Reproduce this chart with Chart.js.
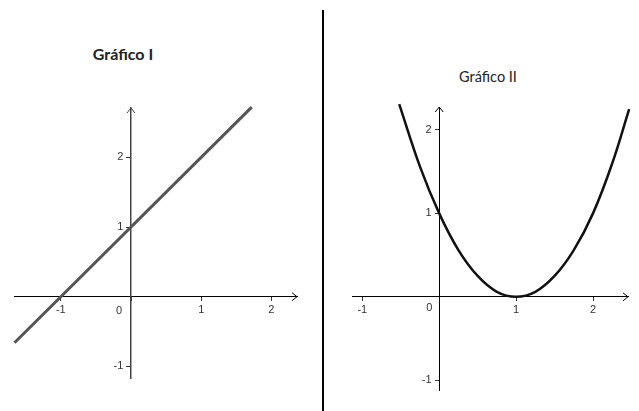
<!DOCTYPE html>
<html>
<head>
<meta charset="utf-8">
<script src="https://cdn.jsdelivr.net/npm/chart.js@4"></script>
<style>
  body { margin: 0; background: #fff; }
  #wrap { position: relative; width: 639px; height: 411px; background: #fff; overflow: hidden; }
  canvas { position: absolute; top: 0; }
  .title { position: absolute; width: 200px; text-align: center; line-height: 1; color: #222; font-family: Lato, "Open Sans", sans-serif; }
  #sep { position: absolute; left: 322px; top: 10px; width: 2px; height: 401px; background: #000; }
</style>
</head>
<body>
<div id="wrap">
  <div class="title" style="left:23px; top:46px; font-size:16px; font-weight:bold;">Gráfico I</div>
  <div class="title" style="left:388px; top:70px; font-size:14.5px;">Gráfico II</div>
  <div id="sep"></div>
  <canvas id="chartI" width="320" height="411" style="left:0"></canvas>
  <canvas id="chartII" width="314" height="411" style="left:325px"></canvas>
</div>
<script>
// Gráfico I - straight line
const lineX = [-1.66, 1.72];
const lineY = [-0.66, 2.72];
const leftXTicks = [-1, 0, 1, 2];
const leftYTicks = [-1, 0, 1, 2];

// Gráfico II - parabola
const curveX = [-0.52, -0.25, 0, 0.25, 0.5, 0.75, 1, 1.25, 1.5, 1.75, 2, 2.25, 2.47];
const curveY = [2.31, 1.56, 1, 0.56, 0.25, 0.06, 0, 0.06, 0.25, 0.56, 1, 1.6, 2.25];
const rightXTicks = [-1, 0, 1, 2];
const rightYTicks = [-1, 0, 1, 2];

const toPoints = (xs, ys) => xs.map((x, i) => ({ x, y: ys[i] }));

// arrows at the axis ends + the "0" under the origin
const axisExtras = {
  id: 'axisExtras',
  afterDraw(chart, args, opts) {
    const { ctx, chartArea: a, scales: { x, y } } = chart;
    const ox = x.getPixelForValue(0), oy = y.getPixelForValue(0);
    ctx.save();
    ctx.lineWidth = 1;
    ctx.strokeStyle = opts.xColor;
    ctx.beginPath();
    ctx.moveTo(a.right - 5, oy - 4); ctx.lineTo(a.right, oy); ctx.lineTo(a.right - 5, oy + 4);
    ctx.stroke();
    ctx.strokeStyle = opts.yColor;
    ctx.beginPath();
    ctx.moveTo(ox - 4, a.top + 5); ctx.lineTo(ox, a.top); ctx.lineTo(ox + 4, a.top + 5);
    ctx.stroke();
    ctx.fillStyle = '#333';
    ctx.font = '11px "Liberation Sans", Arial, sans-serif';
    ctx.textAlign = 'center';
    ctx.textBaseline = 'middle';
    ctx.fillText('0', ox + opts.zeroDx, oy + opts.zeroDy);
    ctx.restore();
  }
};

function axisScale(min, max, ticks, color, width, isX) {
  return {
    type: 'linear',
    min, max,
    position: isX ? { y: 0 } : { x: 0 },
    afterBuildTicks: (s) => { s.ticks = ticks.map(v => ({ value: v })); },
    border: { display: true, color, width },
    grid: { drawOnChartArea: false, drawTicks: true, tickLength: 4, color: '#333' },
    ticks: {
      padding: 3,
      color: '#333',
      font: { family: '"Liberation Sans", Arial, sans-serif', size: 11 },
      maxRotation: 0,
      autoSkip: false,
      // y labels sit right on the axis when the axis is placed at x=0, so pad them with a space
      callback: (v) => v === 0 ? '' : (isX ? String(v) : v + '\u2002\u2009')
    }
  };
}

function makeChart(id, pts, lineColor, lineWidth, tension, pad, xr, yr, xTicks, yTicks, yAxisColor, yAxisWidth, zero) {
  return new Chart(document.getElementById(id), {
    type: 'scatter',
    data: {
      datasets: [{
        data: pts,
        showLine: true,
        borderColor: lineColor,
        borderWidth: lineWidth,
        pointRadius: 0,
        tension,
        clip: false
      }]
    },
    options: {
      responsive: false,
      animation: false,
      events: [],
      layout: { padding: pad },
      plugins: {
        legend: { display: false },
        tooltip: { enabled: false },
        axisExtras: { xColor: '#000', yColor: yAxisColor, zeroDx: zero[0], zeroDy: zero[1] }
      },
      scales: {
        x: axisScale(xr[0], xr[1], xTicks, '#000', 1, true),
        y: axisScale(yr[0], yr[1], yTicks, yAxisColor, yAxisWidth, false)
      }
    },
    plugins: [axisExtras]
  });
}

makeChart('chartI', toPoints(lineX, lineY), '#555', 3, 0,
  { left: 14, right: 23, top: 108, bottom: 33 },
  [-1.667, 2.365], [-1.166, 2.707], leftXTicks, leftYTicks, '#444', 1.5, [-12, 14]);

makeChart('chartII', toPoints(curveX, curveY), '#111', 2.5, 0.4,
  { left: 27, right: 11, top: 107, bottom: 21 },
  [-1.134, 2.455], [-1.117, 2.275], rightXTicks, rightYTicks, '#000', 1, [-10, 11]);
</script>
</body>
</html>
